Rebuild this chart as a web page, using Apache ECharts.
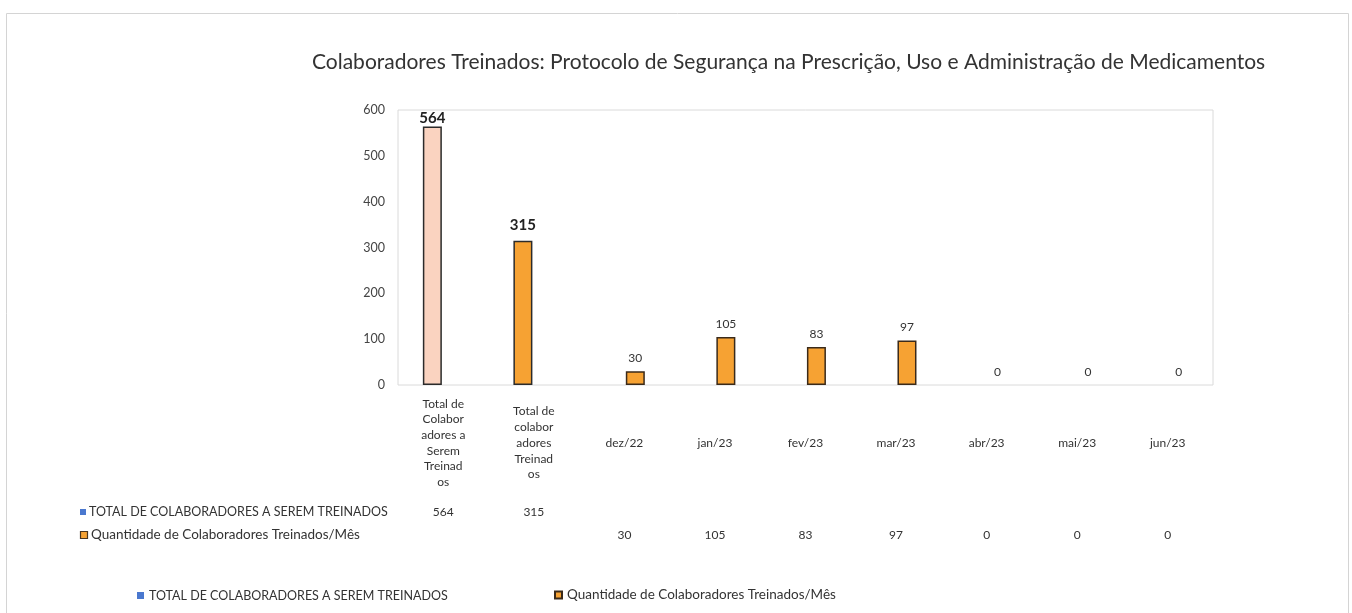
<!DOCTYPE html>
<html>
<head>
<meta charset="utf-8">
<script src="https://cdn.jsdelivr.net/npm/echarts@6/dist/echarts.min.js"></script>
<style>
html,body{margin:0;padding:0;background:#fff;}
#chart{width:1352px;height:613px;}
</style>
</head>
<body>
<div id="chart"></div>
<script>
const titleText = 'Colaboradores Treinados: Protocolo de Segurança na Prescrição, Uso e Administração de Medicamentos';
const categories = [
  'Total de\nColabor\nadores a\nSerem\nTreinad\nos',
  'Total de\ncolabor\nadores\nTreinad\nos',
  'dez/22', 'jan/23', 'fev/23', 'mar/23', 'abr/23', 'mai/23', 'jun/23'
];
const seriesNames = ['TOTAL DE COLABORADORES A SEREM TREINADOS', 'Quantidade de Colaboradores Treinados/Mês'];
const totalValues = [564, 315, null, null, null, null, null, null, null];
const monthlyValues = [null, null, 30, 105, 83, 97, 0, 0, 0];
const yTicks = {min: 0, max: 600, interval: 100};

const FONT = 'Lato';
const chart = echarts.init(document.getElementById('chart'));

const totalColors = ['#FAD3C0', '#F6A233'];
const labelDist = [1, 8];

const tableAxis = (vals, offset) => ({
  type: 'category', data: categories, gridIndex: 0, position: 'bottom', offset: offset,
  axisLine: {show: false}, axisTick: {show: false}, splitLine: {show: false},
  axisLabel: {
    interval: 0, margin: 0, verticalAlign: 'middle', fontFamily: FONT, fontSize: 12, color: '#333',
    formatter: (v, i) => (vals[i] === null || vals[i] === undefined) ? '' : String(vals[i])
  }
});

chart.setOption({
  animation: false,
  title: {
    text: titleText, left: 307, top: 47,
    textStyle: {fontFamily: FONT, fontSize: 21, fontWeight: 'normal', color: '#333'}
  },
  grid: {left: 398, right: 139, top: 110, bottom: 228, show: true, borderColor: '#dadada', borderWidth: 1, backgroundColor: 'transparent'},
  legend: [
    {data: [seriesNames[0]], left: 132, top: 584, icon: 'rect', itemWidth: 7, itemHeight: 7, itemGap: 4,
     textStyle: {fontFamily: FONT, fontSize: 12.5, color: '#333'}},
    {data: [seriesNames[1]], left: 549, top: 583, icon: 'rect', itemWidth: 7, itemHeight: 7, itemGap: 4,
     textStyle: {fontFamily: FONT, fontSize: 13.5, color: '#333'}}
  ],
  xAxis: [
    {
      type: 'category', data: categories,
      axisLine: {show: false}, axisTick: {show: false},
      axisLabel: {interval: 0, margin: 58, verticalAlign: 'middle', lineHeight: 15.7,
        fontFamily: FONT, fontSize: 12, color: '#333'}
    },
    tableAxis(totalValues, 127),
    tableAxis(monthlyValues, 150)
  ],
  yAxis: {
    type: 'value', min: yTicks.min, max: yTicks.max, interval: yTicks.interval,
    axisLine: {show: false}, axisTick: {show: false}, splitLine: {show: false},
    axisLabel: {margin: 13, fontFamily: FONT, fontSize: 12.5, color: '#444'}
  },
  graphic: [
    {type: 'rect', shape: {x: 6.5, y: 13.5, width: 1342, height: 640}, style: {fill: 'none', stroke: '#d4d4d4', lineWidth: 1}, silent: true},
    {type: 'rect', shape: {x: 80, y: 509, width: 6, height: 6}, style: {fill: '#4A78CF'}},
    {type: 'text', x: 89, y: 512, style: {text: seriesNames[0], fontFamily: FONT, fontSize: 12.5, fill: '#333', verticalAlign: 'middle'}},
    {type: 'rect', shape: {x: 80.5, y: 531.5, width: 7, height: 7}, style: {fill: '#F6A233', stroke: '#4a3520', lineWidth: 1.2}},
    {type: 'text', x: 91, y: 535, style: {text: seriesNames[1], fontFamily: FONT, fontSize: 13.5, fill: '#333', verticalAlign: 'middle'}}
  ],
  series: [
    {
      name: seriesNames[0], type: 'bar', barWidth: 19, barGap: '15%',
      itemStyle: {color: '#4A78CF'},
      data: totalValues.map((v, i) => v === null ? null : {
        value: v,
        itemStyle: {color: totalColors[i], borderColor: '#2b2b2b', borderWidth: 1.5},
        label: {show: true, position: 'top', distance: labelDist[i], fontFamily: FONT, fontSize: 15, fontWeight: 'bold', color: '#222'}
      })
    },
    {
      name: seriesNames[1], type: 'bar', barWidth: 19,
      itemStyle: {color: '#F6A233', borderColor: '#3a2a1a', borderWidth: 1.5},
      label: {show: true, position: 'top', distance: 7, fontFamily: FONT, fontSize: 12, color: '#333'},
      data: monthlyValues.map(v => v === 0 ? {value: 0, itemStyle: {borderWidth: 0}} : v)
    }
  ]
});
</script>
</body>
</html>
